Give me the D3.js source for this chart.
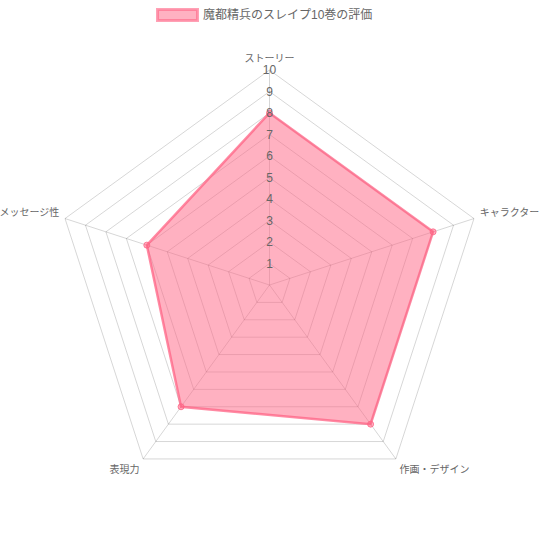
<!DOCTYPE html>
<html><head><meta charset="utf-8">
<script src="https://cdn.jsdelivr.net/npm/d3@7"></script>
<style>body{margin:0;background:#fff}svg{display:block}</style>
</head><body>
<script>
const categories = ["ストーリー","キャラクター","作画・デザイン","表現力","メッセージ性"];
const seriesName = "魔都精兵のスレイプ10巻の評価";
const values = [8, 8, 8, 7, 6];
const ticks = [1,2,3,4,5,6,7,8,9,10];

const W = 540, H = 540, cx = 269.5, cy = 285, R = 215;
const font = "'Liberation Sans','Noto Sans CJK JP',sans-serif";
const svg = d3.select("body").append("svg").attr("width", W).attr("height", H)
  .style("font-family", font);

const r = d3.scaleLinear().domain([0, 10]).range([0, R]);
const n = categories.length;
const ang = i => -Math.PI/2 + i * 2*Math.PI/n;
const pt = (i, v) => [cx + r(v)*Math.cos(ang(i)), cy + r(v)*Math.sin(ang(i))];

const gridColor = "rgba(0,0,0,0.16)";
ticks.forEach(t => {
  svg.append("polygon")
    .attr("points", categories.map((c,i)=>pt(i,t).join(",")).join(" "))
    .attr("fill","none").attr("stroke",gridColor).attr("stroke-width",1);
});
categories.forEach((c,i)=>{
  const p = pt(i,10);
  svg.append("line").attr("x1",cx).attr("y1",cy).attr("x2",p[0]).attr("y2",p[1])
    .attr("stroke",gridColor).attr("stroke-width",1);
});

const line = d3.line().curve(d3.curveLinearClosed);
svg.append("path")
  .attr("d", line(values.map((v,i)=>pt(i,v))))
  .attr("fill","rgba(255,99,132,0.5)")
  .attr("stroke","rgba(255,99,132,0.75)").attr("stroke-width",2.5);
values.forEach((v,i)=>{
  const p = pt(i,v);
  svg.append("circle").attr("cx",p[0]).attr("cy",p[1]).attr("r",3)
    .attr("fill","rgba(255,99,132,0.5)").attr("stroke","rgba(255,99,132,0.8)").attr("stroke-width",1);
});

ticks.forEach(t=>{
  svg.append("text").attr("x",cx).attr("y",cy - r(t)).attr("dy","0.35em")
    .attr("text-anchor","middle").attr("font-size",12).attr("fill","#666").text(t);
});

categories.forEach((c,i)=>{
  const a = ang(i), rr = R + 6;
  const x = cx + rr*Math.cos(a), y = cy + rr*Math.sin(a);
  const cs = Math.cos(a), sn = Math.sin(a);
  const anchor = Math.abs(cs) < 0.05 ? "middle" : (cs > 0 ? "start" : "end");
  const dy = Math.abs(cs) < 0.05 ? -2.5 : (sn < 0 ? -1 : 9);
  svg.append("text").attr("x",x).attr("y",y+dy).attr("text-anchor",anchor)
    .attr("font-size",10).attr("fill","#666").text(c);
});

svg.append("rect").attr("x",157.5).attr("y",9.5).attr("width",40).attr("height",11)
  .attr("fill","rgba(255,99,132,0.5)").attr("stroke","rgba(255,99,132,0.6)").attr("stroke-width",3);
svg.append("text").attr("x",203).attr("y",19).attr("font-size",12).attr("fill","#666").text(seriesName);
</script>
</body></html>
